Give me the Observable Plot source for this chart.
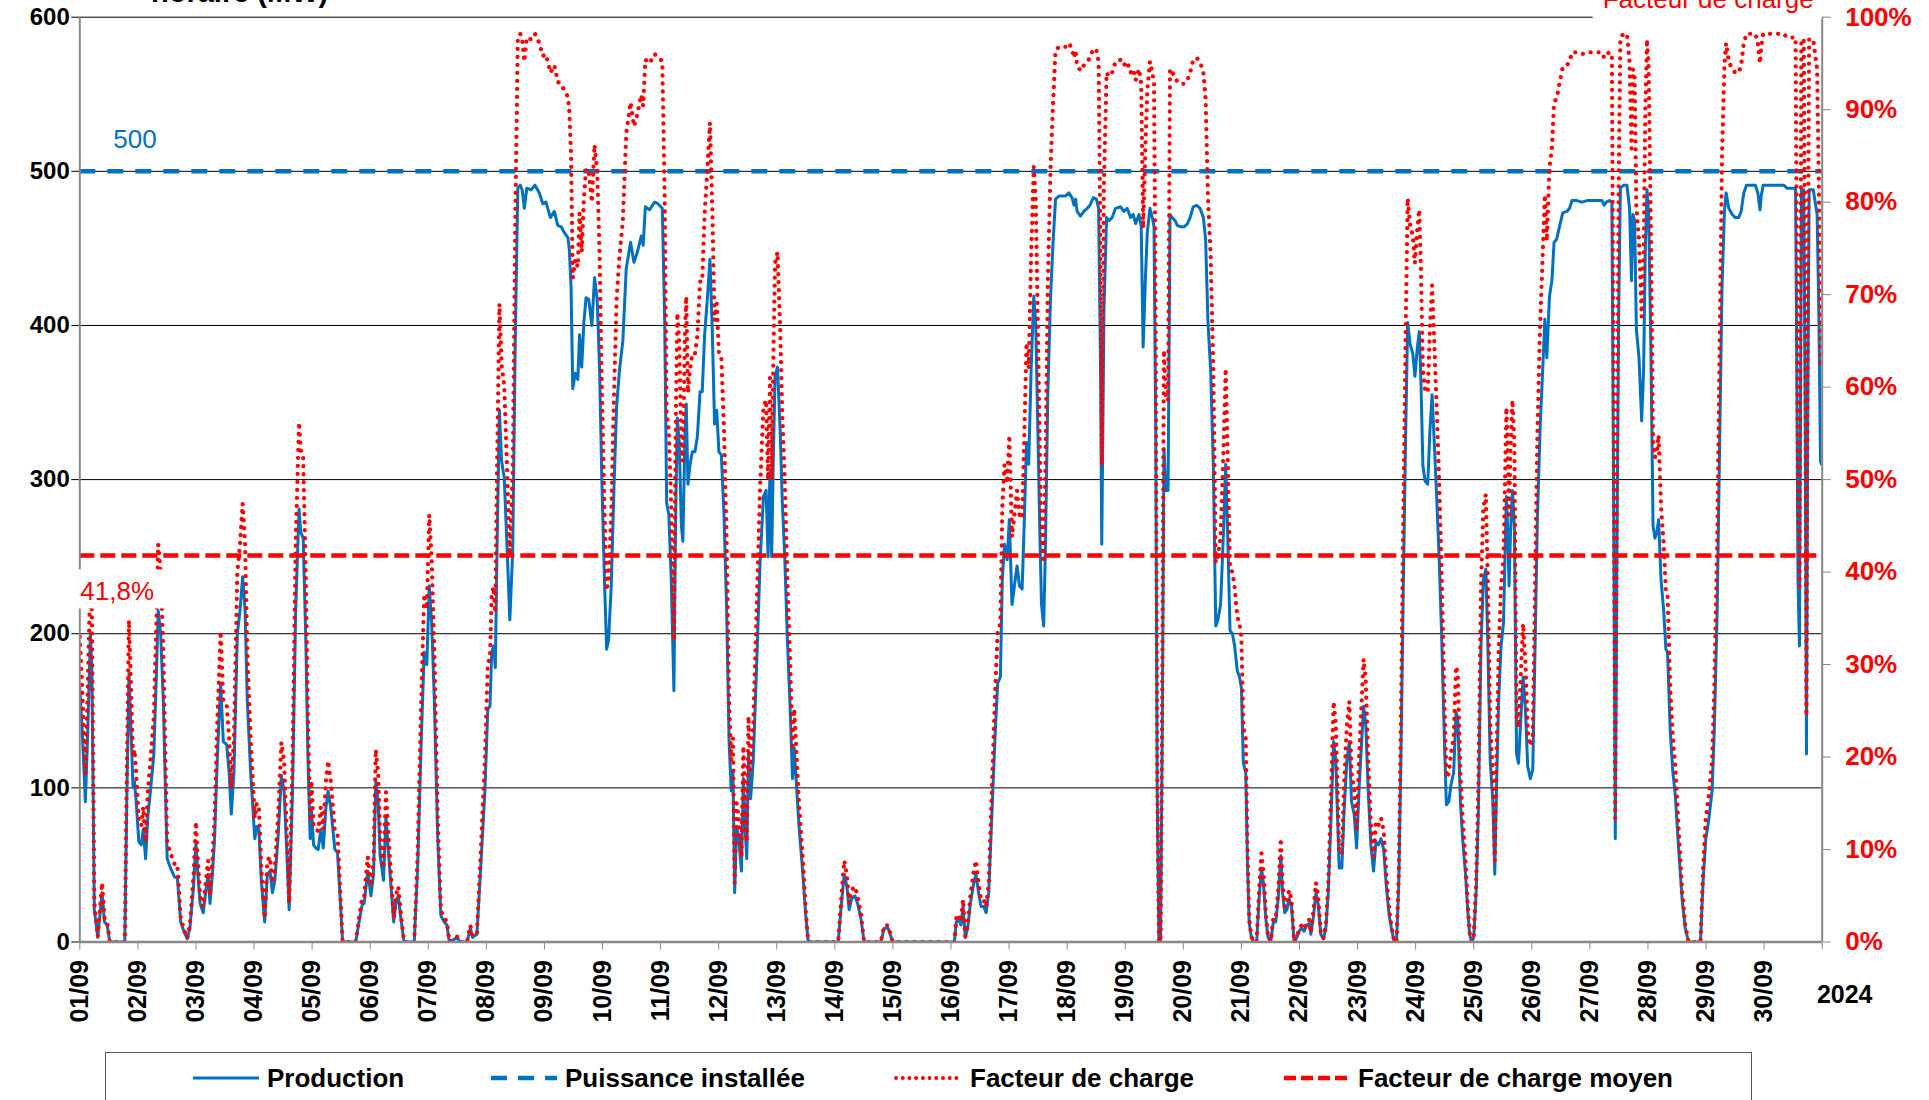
<!DOCTYPE html>
<html><head><meta charset="utf-8">
<script src="https://cdn.jsdelivr.net/npm/d3@7"></script>
<script src="https://cdn.jsdelivr.net/npm/@observablehq/plot@0.6"></script>
<style>
html,body{margin:0;padding:0;background:#fff;overflow:hidden;width:1929px;height:1100px;}
#wrap{position:relative;width:1929px;height:1100px;font-family:"Liberation Sans",Arial,sans-serif;}
#legend{position:absolute;left:105px;top:1052px;width:1647px;height:80px;border:1.5px solid #595959;box-sizing:border-box;background:#fff;}
.item{position:absolute;top:9px;height:32px;display:flex;align-items:center;font-weight:bold;font-size:26px;color:#000;white-space:nowrap;}
.item svg{margin-right:6px;}
</style></head><body><div id="wrap"></div><script>
// ---- Data : [hour of month, MW] ----
const prodSep01to05 = [[0,165],[1,137],[2.3,91],[3.3,137],[4.4,200],[5,176],[6,21],[7.4,3],[8.3,17],[9.2,32],[10.2,13],[11.3,11],[12.4,0],[18.6,0],[19.4,90],[20.3,174],[21,145],[22,100],[22.6,104],[23.3,91],[24.4,65],[25.4,63],[26.2,73],[27.2,54],[28.1,81],[29.2,98],[30.6,122],[31.7,176],[32.4,215],[33.4,200],[34.5,157],[35.4,98],[36.1,54],[37.5,48],[39.2,42],[40.3,42],[41.7,13],[43,7],[44.4,2],[45.5,9],[47,36],[48,65],[48.6,48],[49.7,25],[51,19],[52,32],[53,44],[53.8,25],[54.8,44],[55.7,67],[56.8,118],[58.2,168],[59.3,130],[60.7,128],[61.7,110],[62.6,83],[63.7,110],[65.1,200],[66.2,215],[67.3,237],[68.3,215],[69.2,157],[70.6,110],[72.3,67],[73.1,75],[74,73],[75,40],[76.4,13],[77.5,44],[78.6,46],[79.6,32],[80.6,40],[81.9,67],[83.3,108],[84.4,98],[85.5,60],[86.5,21],[87.9,98],[89.2,215],[90.6,281],[91.3,266],[92.3,262],[93.4,196],[94.3,118],[95.2,67],[95.7,87],[96.6,63],[97.5,61],[98.5,60],[99.6,73],[100.6,61],[101.7,87],[102.6,98],[103.7,87],[105.4,60],[106.5,58],[107.6,28],[108.6,0],[114,0],[115.4,13],[116.8,25],[117.5,25]];
const prodSep06to10 = [[119,46],[120.3,30],[121.4,44],[122.3,104],[123.3,91],[124.1,56],[125.5,40],[126.5,81],[127.4,61],[128.6,36],[129.7,13],[130.6,25],[131.6,30],[132.7,15],[134,0],[138.2,0],[139.6,48],[141,126],[142.3,188],[143.4,180],[144.4,231],[145.4,207],[146.5,157],[147.9,67],[149.2,17],[150.6,13],[151.7,11],[152.7,0],[156,3],[157,0],[160,0],[161.4,9],[162.3,3],[164.1,5],[165.8,52],[167.4,98],[168.6,151],[169.5,153],[170.2,188],[171,192],[171.7,178],[172.4,254],[173.4,345],[174.3,312],[175.4,301],[176.6,254],[177.7,209],[178.9,254],[179.9,386],[181,489],[182,491],[182.8,488],[183.7,476],[184.7,489],[186.5,488],[188.1,491],[189.9,486],[191.3,479],[192.6,480],[194.5,470],[196.1,474],[197.5,465],[198.9,464],[200.3,460],[201.7,457],[202.3,449],[203,425],[203.7,359],[204.7,369],[205.8,365],[206.5,394],[207.4,373],[208.3,402],[209.2,418],[210.3,417],[211.6,400],[212.7,431],[213.8,417],[214.8,371],[215.7,301],[216.8,235],[217.7,190],[218.5,196],[219.6,231],[220.7,293],[221.8,347],[223,371],[224.4,390],[225.8,437],[227.6,454],[229,441],[230.3,447],[232,458],[232.8,452],[233.7,477],[235.4,475],[237.5,480],[238.9,479]];
const prodSep11to15 = [[240.7,476],[241.7,402],[242.5,285],[243.4,277],[244.4,235],[245.5,163],[246.2,274],[246.9,340],[247.7,324],[248.6,270],[249.2,260],[250.1,332],[250.6,349],[251.3,297],[252.1,309],[253.1,318],[254.2,318],[255.2,328],[256.3,357],[257.2,357],[258.2,394],[259.3,417],[260.4,443],[261.4,394],[262.3,336],[263.2,345],[264.1,318],[265.1,316],[266.2,277],[267.3,215],[268.3,130],[269.2,98],[269.9,110],[270.6,32],[271.4,75],[272.3,67],[273.4,46],[274.2,106],[274.9,75],[275.6,54],[276.3,122],[277.2,93],[278.3,118],[279.7,180],[281.1,246],[282.5,289],[283.6,293],[284.4,250],[285.2,305],[285.9,250],[286.6,316],[287.3,367],[288.3,373],[289.4,332],[290.3,285],[291.3,250],[292.4,196],[293.5,153],[294.5,106],[295.2,126],[296.3,98],[297.2,75],[298.6,48],[300,17],[301,0],[313.4,0],[314.5,21],[315.9,44],[317,36],[317.9,21],[318.9,28],[320.3,30],[321.4,25],[322.8,15],[324.1,0],[331,0],[332.4,9],[334,9],[335.9,0],[360,0]];
const prodSep16to20 = [[361.4,0],[362.2,13],[363.2,15],[364.1,11],[365,23],[365.9,3],[366.9,9],[368,25],[369.4,38],[370.3,44],[371.4,32],[372.4,23],[373.5,23],[374.5,19],[375.6,32],[377,87],[378.3,137],[379.3,168],[380.4,172],[381.2,235],[382.1,258],[383.2,248],[384.1,274],[385.2,219],[386.2,231],[387.3,244],[388.3,231],[389.4,229],[390.3,274],[391.2,324],[392.1,310],[393.1,371],[394.2,419],[395,402],[395.9,332],[396.7,266],[397.4,219],[398.3,205],[399,254],[400,355],[401.1,417],[402.1,452],[403.2,482],[404.6,484],[405.9,484],[407.3,484],[408.7,486],[410,483],[410.8,478],[411.5,482],[412.1,474],[413.5,471],[414.9,474],[416.3,476],[417.4,478],[418.8,483],[420.1,482],[421,476],[421.8,371],[422.3,258],[423.2,410],[424.3,470],[425.2,468],[426.6,470],[428,476],[430.1,477],[431.4,474],[432.8,476],[434.2,470],[435.3,472],[436.3,466],[437.7,472],[438.6,464],[439.4,386],[440.3,429],[441.1,460],[442.2,476],[443.2,470],[443.9,464],[444.6,332],[445.2,98],[445.9,0],[446.6,0],[447.3,137],[448,320],[448.8,293],[449.7,293],[450.5,472],[451.4,470],[452.6,468],[453.5,465],[454.9,464],[456.3,464],[457.7,466],[458.8,470],[460.1,477],[461.5,478],[462.9,476],[464.3,470],[465.2,456],[466.2,402],[467.3,371],[468.4,309],[469.4,205],[470.3,209],[471.4,219],[472.6,266],[473.5,310],[474.5,254],[475.3,202],[476.3,200],[477.2,192],[478.3,176],[479.2,172]];
const prodSep21to25 = [[480,165],[480.8,116],[481.8,110],[482.5,52],[483.2,13],[484.1,3],[485.2,0],[486.3,0],[487.3,28],[488.3,48],[489.1,38],[490.1,15],[491,3],[492.1,0],[493.2,13],[494.2,13],[495.2,28],[496.3,56],[497,32],[497.9,19],[498.8,21],[499.7,28],[500.7,23],[501.8,0],[502.9,3],[503.9,7],[504.8,9],[505.9,7],[507,11],[508,12],[508.7,5],[509.8,17],[510.8,32],[511.7,25],[512.8,5],[513.9,2],[514.9,9],[515.9,32],[517,79],[518.1,130],[519,118],[519.7,83],[520.4,48],[521.5,48],[522.5,87],[523.6,118],[524.6,130],[525.5,91],[526.6,83],[527.6,61],[528.7,102],[529.7,130],[530.5,153],[531.4,141],[532.4,98],[533.5,63],[534.6,46],[535.6,65],[536.6,63],[537.7,67],[538.8,60],[539.9,36],[541.1,17],[542.2,7],[543.2,0],[544.1,0],[545,36],[545.9,118],[546.9,231],[547.9,332],[548.7,402],[549.7,388],[550.8,382],[551.7,367],[552.6,384],[553.5,396],[554.2,363],[555,309],[555.9,299],[557,297],[557.9,332],[558.8,355],[559.7,324],[560.8,285],[561.8,246],[562.8,196],[563.9,130],[564.7,89],[565.7,91],[566.6,102],[567.7,110],[568.7,149],[569.4,145],[570.5,91],[571.4,67],[572.6,44],[573.5,21],[574.3,5],[575.2,0],[576,3],[577,32],[577.9,83],[579,192],[580,235],[581,242],[581.8,196],[582.8,118],[583.9,91],[584.7,44],[585.5,106],[586.3,157],[587.3,192],[588.3,207],[589,254],[589.5,289],[590.1,266],[590.6,231],[591.2,266],[592,293],[592.8,270],[593.7,122],[594.5,116],[595.6,149],[596.4,172],[597.4,150],[598.3,114],[599.4,106]];
const prodSep26to30 = [[600.4,112],[601.4,196],[602.3,274],[603.4,332],[604.6,375],[605.4,404],[606.2,379],[607.3,419],[608.3,429],[609.2,454],[610.3,456],[611.4,464],[612.8,473],[614.5,474],[615.6,476],[616.6,481],[618.6,481],[620.7,480],[622.8,481],[625.5,481],[629,481],[629.9,478],[630.8,480],[632.1,481],[633.1,480],[633.8,293],[634.5,67],[635.2,254],[635.9,410],[636.6,489],[637.9,491],[639.3,491],[640.4,476],[641.2,429],[641.8,472],[642.5,468],[643.2,398],[644.3,379],[645.4,338],[646.2,371],[646.9,449],[647.6,488],[648.3,472],[649.2,386],[650.1,270],[650.9,262],[651.7,266],[652.4,274],[653.4,235],[654.5,215],[655.4,190],[656.1,188],[657.2,137],[658.3,110],[659.3,95],[660.7,60],[662.1,28],[663.4,9],[664.8,0],[669.7,0],[670.8,40],[671.9,67],[673.1,79],[674.5,98],[675.4,137],[676.6,215],[677.7,332],[678.6,425],[679.6,474],[680.3,486],[681.4,476],[682.8,472],[684.1,470],[685.5,470],[686.5,474],[687.6,486],[688.7,491],[690.3,491],[692.4,491],[693.4,486],[694.3,475],[694.8,484],[695.6,491],[698,491],[701.4,491],[704.1,491],[705.5,489],[709,489],[709.5,371],[710,235],[710.6,192],[711,332],[711.4,488],[712.4,488],[713,332],[713.5,122],[714,332],[714.6,488],[716.3,488],[717.1,480],[717.9,472],[718.6,410],[719.3,312],[719.7,310]];

const installedMW = 500;          // Puissance installée
const meanLoadFactor = 0.418;     // Facteur de charge moyen
const leftTicks = [0, 100, 200, 300, 400, 500, 600];
const rightTicksPct = [0, 10, 20, 30, 40, 50, 60, 70, 80, 90, 100];
const gridValues = [100, 200, 300, 400, 500, 600];
const yearLabel = "2024";
const seriesNames = ["Production", "Puissance installée", "Facteur de charge", "Facteur de charge moyen"];

// ---- Build ----
const start = new Date(Date.UTC(2024, 8, 1));
const end = new Date(Date.UTC(2024, 9, 1));
const hourly = [prodSep01to05, prodSep06to10, prodSep11to15, prodSep16to20, prodSep21to25, prodSep26to30]
  .flat().map(([h, mw]) => ({date: new Date(+start + h * 3600e3), mw, f: mw / installedMW}));
const days = d3.utcDay.range(start, d3.utcDay.offset(end, 1));
const dayFmt = d3.utcFormat("%d/%m");
const pctToLeft = p => p / 100 * 600;   // right axis: 0–100 % ↔ 0–600 on the shared frame

const BLUE = "#0070C0", RED = "#FF0000", FONT = "'Liberation Sans', Arial, sans-serif";

const chart = Plot.plot({
  width: 1929, height: 1052,
  marginLeft: 79.3, marginRight: 107.3, marginTop: 16.7, marginBottom: 110.5,
  style: {fontFamily: FONT, background: "white"},
  x: {type: "utc", domain: [start, end]},
  y: {domain: [0, 600]},
  marks: [
    Plot.gridY(gridValues, {stroke: "#000", strokeOpacity: 1, strokeWidth: 1}),
    Plot.axisY({anchor: "left", ticks: leftTicks, tickSize: 8, tickPadding: 2, label: null,
      tickFormat: d => String(d), fontSize: 24, fontWeight: "bold", fill: "#000", stroke: "#000"}),
    Plot.axisY({anchor: "right", ticks: rightTicksPct.map(pctToLeft), tickSize: 8, tickPadding: 15, label: null,
      tickFormat: d => Math.round(d / 6) + "%", fontSize: 26, fontWeight: "bold", fill: RED, stroke: "#888"}),
    Plot.axisX({ticks: days, tickFormat: d => (+d >= +end ? "" : dayFmt(d)), tickRotate: -90,
      tickSize: 8, tickPadding: 10, label: null, fontSize: 25, fontWeight: "bold", fill: "#000", stroke: "#888"}),
    Plot.line(hourly, {x: "date", y: "mw", stroke: BLUE, strokeWidth: 3, clip: true}),
    Plot.ruleY([installedMW], {stroke: BLUE, strokeWidth: 4.5, strokeDasharray: "16 12"}),
    Plot.line(hourly, {x: "date", y: d => pctToLeft(d.f * 100), stroke: RED, strokeWidth: 4.2,
      strokeDasharray: "0.1 7.9", strokeLinecap: "round", clip: true}),
    Plot.ruleY([pctToLeft(meanLoadFactor * 100)], {stroke: RED, strokeWidth: 4.5, strokeDasharray: "15 6"}),
    Plot.ruleX([start, end], {stroke: "#888", strokeWidth: 2}),
    Plot.ruleY([0], {stroke: "#888", strokeWidth: 2.5})
  ]
});
document.getElementById("wrap").appendChild(chart);

// ---- Annotations placed from the scales ----
const svg = d3.select(chart);
const sx = chart.scale("x"), sy = chart.scale("y");
const x0 = sx.apply(start), x1 = sx.apply(end);
function label(text, x, y, opts = {}) {
  const t = svg.append("text").attr("x", x).attr("y", y).text(text)
    .attr("font-family", FONT).attr("font-size", opts.size || 26)
    .attr("font-weight", opts.weight || "normal").attr("fill", opts.fill || "#000")
    .attr("text-anchor", opts.anchor || "start");
  if (opts.box) {
    const b = t.node().getBBox(), p = opts.box;
    svg.insert("rect", () => t.node()).attr("x", b.x - p[3]).attr("y", b.y - p[0])
      .attr("width", b.width + p[1] + p[3]).attr("height", b.height + p[0] + p[2]).attr("fill", "#fff");
  }
  return t;
}
label(String(installedMW), x0 + 34, sy.apply(installedMW) - 23, {fill: BLUE});
label((meanLoadFactor * 100).toFixed(1).replace(".", ",") + "%", x0 + 1,
  sy.apply(pctToLeft(meanLoadFactor * 100)) + 45.5, {fill: RED, box: [7, 10, 2, 2]});
label("horaire (MW)", 151, 2, {weight: "bold", size: 29});
label("Facteur de charge", x1 - 8, 8, {fill: RED, anchor: "end", box: [20, 8, 5, 10]});
label(yearLabel, x1 + 23, 1003, {weight: "bold", size: 25, anchor: "middle"});

// ---- Legend ----
const legend = d3.select("#wrap").append("div").attr("id", "legend");
const items = [
  {name: seriesNames[0], left: 85, stroke: BLUE, w: 3, dash: null},
  {name: seriesNames[1], left: 383, stroke: BLUE, w: 4.5, dash: "16 11"},
  {name: seriesNames[2], left: 788, stroke: RED, w: 3.8, dash: "0.1 6.6", cap: "round"},
  {name: seriesNames[3], left: 1176, stroke: RED, w: 4.5, dash: "12 5"}
];
for (const it of items) {
  const d = legend.append("div").attr("class", "item").style("left", it.left + "px");
  const s = d.append("svg").attr("width", 70).attr("height", 12);
  s.append("line").attr("x1", 2).attr("x2", 68).attr("y1", 6).attr("y2", 6)
    .attr("stroke", it.stroke).attr("stroke-width", it.w)
    .attr("stroke-dasharray", it.dash).attr("stroke-linecap", it.cap || "butt");
  d.append("span").text(it.name);
}
</script></body></html>
